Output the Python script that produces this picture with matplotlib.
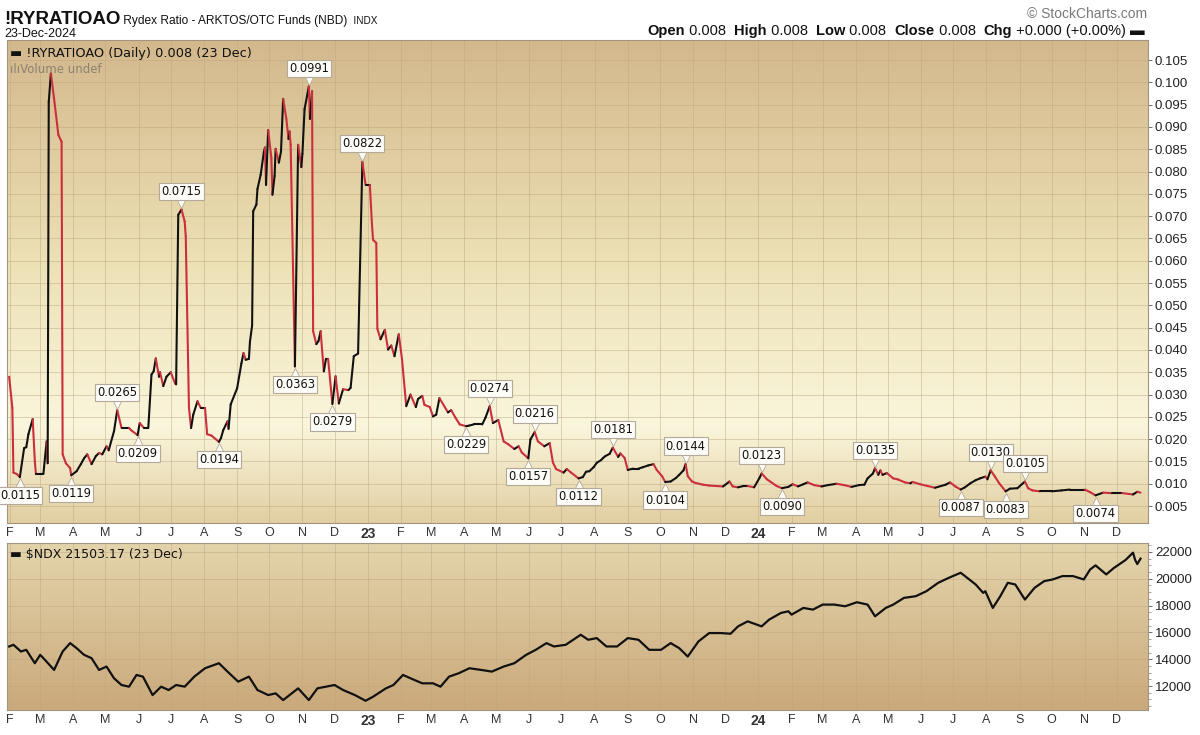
import numpy as np
import pandas as pd
import matplotlib
matplotlib.use("Agg")
import matplotlib.pyplot as plt
import matplotlib.dates as mdates
from matplotlib.collections import LineCollection
from matplotlib.colors import LinearSegmentedColormap
from matplotlib.transforms import offset_copy

plt.rcParams['font.family'] = ['Liberation Sans', 'DejaVu Sans']

# --- Rydex ratio ---
ratio_dates = [
    "2022-01-31", "2022-02-03", "2022-02-04", "2022-02-07", "2022-02-10", "2022-02-14",
    "2022-02-16", "2022-02-18", "2022-02-22", "2022-02-24", "2022-02-25", "2022-03-04",
    "2022-03-07", "2022-03-08", "2022-03-09", "2022-03-11", "2022-03-14", "2022-03-18",
    "2022-03-21", "2022-03-22", "2022-03-25", "2022-03-29", "2022-03-30", "2022-04-04",
    "2022-04-08", "2022-04-11", "2022-04-14", "2022-04-18", "2022-04-22", "2022-04-25",
    "2022-04-28", "2022-05-02", "2022-05-04", "2022-05-09", "2022-05-12", "2022-05-16",
    "2022-05-23", "2022-05-25", "2022-05-31", "2022-06-02", "2022-06-06", "2022-06-10",
    "2022-06-13", "2022-06-15", "2022-06-17", "2022-06-20", "2022-06-21", "2022-06-24",
    "2022-06-27", "2022-07-01", "2022-07-05", "2022-07-06", "2022-07-08", "2022-07-11",
    "2022-07-14", "2022-07-15", "2022-07-18", "2022-07-20", "2022-07-22", "2022-07-26",
    "2022-07-29", "2022-08-02", "2022-08-04", "2022-08-08", "2022-08-15", "2022-08-17",
    "2022-08-19", "2022-08-23", "2022-08-24", "2022-08-26", "2022-09-01", "2022-09-05",
    "2022-09-07", "2022-09-09", "2022-09-12", "2022-09-13", "2022-09-15", "2022-09-16",
    "2022-09-19", "2022-09-20", "2022-09-23", "2022-09-26", "2022-09-27", "2022-09-28",
    "2022-09-30", "2022-10-03", "2022-10-04", "2022-10-06", "2022-10-07", "2022-10-10",
    "2022-10-12", "2022-10-14", "2022-10-17", "2022-10-19", "2022-10-20", "2022-10-21",
    "2022-10-25", "2022-10-28", "2022-10-31", "2022-11-01", "2022-11-03", "2022-11-07",
    "2022-11-08", "2022-11-10", "2022-11-11", "2022-11-14", "2022-11-16", "2022-11-18",
    "2022-11-21", "2022-11-23", "2022-11-25", "2022-11-29", "2022-12-02", "2022-12-05",
    "2022-12-09", "2022-12-14", "2022-12-16", "2022-12-19", "2022-12-23", "2022-12-27",
    "2022-12-30",
    "2023-01-03", "2023-01-05", "2023-01-06", "2023-01-09", "2023-01-10", "2023-01-13",
    "2023-01-17", "2023-01-20", "2023-01-23", "2023-01-26", "2023-01-30", "2023-02-02",
    "2023-02-06", "2023-02-10", "2023-02-15", "2023-02-17", "2023-02-21", "2023-02-23",
    "2023-02-28", "2023-03-03", "2023-03-06", "2023-03-09", "2023-03-14", "2023-03-17",
    "2023-03-20", "2023-03-24", "2023-03-28", "2023-04-03", "2023-04-05", "2023-04-10",
    "2023-04-14", "2023-04-18", "2023-04-21", "2023-04-25", "2023-04-28", "2023-05-03",
    "2023-05-08", "2023-05-12", "2023-05-18", "2023-05-22", "2023-05-25", "2023-05-31",
    "2023-06-02", "2023-06-06", "2023-06-09", "2023-06-15", "2023-06-20", "2023-06-23",
    "2023-06-26", "2023-07-03", "2023-07-06", "2023-07-10", "2023-07-17", "2023-07-21",
    "2023-07-24", "2023-07-27", "2023-07-31", "2023-08-03", "2023-08-07", "2023-08-09",
    "2023-08-11", "2023-08-15", "2023-08-18", "2023-08-23", "2023-08-25", "2023-08-29",
    "2023-09-01", "2023-09-06", "2023-09-11", "2023-09-15", "2023-09-20", "2023-09-25",
    "2023-09-28", "2023-10-03", "2023-10-06", "2023-10-11", "2023-10-16", "2023-10-19",
    "2023-10-23", "2023-10-25", "2023-10-27", "2023-10-31", "2023-11-03", "2023-11-10",
    "2023-11-16", "2023-11-22", "2023-11-29", "2023-12-05", "2023-12-08", "2023-12-13",
    "2023-12-18", "2023-12-22", "2023-12-28",
    "2024-01-02", "2024-01-04", "2024-01-09", "2024-01-12", "2024-01-18", "2024-01-23",
    "2024-01-29", "2024-02-02", "2024-02-07", "2024-02-12", "2024-02-16", "2024-02-22",
    "2024-02-29", "2024-03-06", "2024-03-14", "2024-03-21", "2024-03-28", "2024-04-04",
    "2024-04-09", "2024-04-12", "2024-04-17", "2024-04-19", "2024-04-22", "2024-04-24",
    "2024-04-26", "2024-04-30", "2024-05-06", "2024-05-10", "2024-05-17", "2024-05-22",
    "2024-05-24", "2024-05-31", "2024-06-07", "2024-06-14", "2024-06-24", "2024-06-28",
    "2024-07-03", "2024-07-08", "2024-07-12", "2024-07-17", "2024-07-22", "2024-07-26",
    "2024-07-31", "2024-08-02", "2024-08-05", "2024-08-09", "2024-08-13", "2024-08-19",
    "2024-08-23", "2024-08-30", "2024-09-06", "2024-09-09", "2024-09-13", "2024-09-20",
    "2024-10-01", "2024-10-10", "2024-10-18", "2024-11-01", "2024-11-06", "2024-11-11",
    "2024-11-18", "2024-11-26", "2024-12-06", "2024-12-16", "2024-12-20", "2024-12-23",
]
ratio_values = [
    0.0340, 0.0270, 0.0125, 0.0122, 0.0115, 0.0180,
    0.0182, 0.0211, 0.0245, 0.0150, 0.0122, 0.0122,
    0.0195, 0.0146, 0.0956, 0.1020, 0.0963, 0.0882,
    0.0867, 0.0166, 0.0146, 0.0135, 0.0119, 0.0128,
    0.0144, 0.0157, 0.0166, 0.0144, 0.0162, 0.0169,
    0.0166, 0.0184, 0.0175, 0.0218, 0.0265, 0.0225,
    0.0225, 0.0220, 0.0209, 0.0236, 0.0225, 0.0225,
    0.0345, 0.0352, 0.0381, 0.0340, 0.0350, 0.0319,
    0.0340, 0.0350, 0.0325, 0.0323, 0.0703, 0.0715,
    0.0688, 0.0655, 0.0270, 0.0225, 0.0255, 0.0285,
    0.0270, 0.0270, 0.0211, 0.0208, 0.0194, 0.0203,
    0.0220, 0.0240, 0.0223, 0.0278, 0.0314, 0.0370,
    0.0393, 0.0378, 0.0380, 0.0419, 0.0455, 0.0711,
    0.0726, 0.0761, 0.0793, 0.0844, 0.0854, 0.0770,
    0.0893, 0.0830, 0.0748, 0.0790, 0.0851, 0.0820,
    0.0845, 0.0963, 0.0918, 0.0873, 0.0890, 0.0860,
    0.0363, 0.0860, 0.0810, 0.0840, 0.0940, 0.0991,
    0.0918, 0.0980, 0.0442, 0.0413, 0.0420, 0.0442,
    0.0352, 0.0380, 0.0380, 0.0279, 0.0341, 0.0280,
    0.0312, 0.0310, 0.0315, 0.0386, 0.0392, 0.0822,
    0.0770,
    0.0770, 0.0681, 0.0647, 0.0640, 0.0448, 0.0424,
    0.0445, 0.0401, 0.0410, 0.0386, 0.0435, 0.0380,
    0.0274, 0.0300, 0.0272, 0.0290, 0.0297, 0.0277,
    0.0272, 0.0251, 0.0255, 0.0292, 0.0272, 0.0260,
    0.0265, 0.0248, 0.0233, 0.0229, 0.0230, 0.0233,
    0.0233, 0.0233, 0.0248, 0.0274, 0.0236, 0.0243,
    0.0195, 0.0189, 0.0178, 0.0184, 0.0170, 0.0157,
    0.0199, 0.0216, 0.0195, 0.0184, 0.0191, 0.0148,
    0.0133, 0.0125, 0.0133, 0.0125, 0.0112, 0.0115,
    0.0127, 0.0128, 0.0137, 0.0147, 0.0153, 0.0158,
    0.0162, 0.0167, 0.0181, 0.0160, 0.0168, 0.0158,
    0.0131, 0.0134, 0.0134, 0.0137, 0.0141, 0.0144,
    0.0131, 0.0117, 0.0104, 0.0105, 0.0113, 0.0120,
    0.0130, 0.0144, 0.0117, 0.0105, 0.0102, 0.0098,
    0.0096, 0.0095, 0.0094, 0.0105, 0.0094, 0.0092,
    0.0095, 0.0095, 0.0092,
    0.0113, 0.0123, 0.0110, 0.0105, 0.0095, 0.0090,
    0.0093, 0.0099, 0.0094, 0.0099, 0.0103, 0.0097,
    0.0094, 0.0097, 0.0100, 0.0097, 0.0093, 0.0097,
    0.0098, 0.0112, 0.0123, 0.0135, 0.0120, 0.0130,
    0.0120, 0.0124, 0.0112, 0.0110, 0.0103, 0.0101,
    0.0104, 0.0099, 0.0095, 0.0091, 0.0098, 0.0103,
    0.0094, 0.0087, 0.0092, 0.0101, 0.0108, 0.0112,
    0.0116, 0.0110, 0.0130, 0.0116, 0.0101, 0.0083,
    0.0089, 0.0090, 0.0105, 0.0090, 0.0085, 0.0083,
    0.0083, 0.0085, 0.0087, 0.0087, 0.0081, 0.0074,
    0.0080, 0.0079, 0.0079, 0.0076, 0.0082, 0.0080,
]

# peak / trough call-outs shown on the chart
label_dates = ["2022-02-10", "2022-03-30", "2022-05-12", "2022-05-31", "2022-07-11",
               "2022-08-15", "2022-10-25", "2022-11-07", "2022-11-29", "2022-12-27",
               "2023-04-03", "2023-04-25", "2023-05-31", "2023-06-06", "2023-07-17",
               "2023-08-18", "2023-10-06", "2023-10-25", "2024-01-04", "2024-01-23",
               "2024-04-19", "2024-07-08", "2024-08-05", "2024-08-19", "2024-09-06",
               "2024-11-11"]
label_values = [0.0115, 0.0119, 0.0265, 0.0209, 0.0715,
                0.0194, 0.0363, 0.0991, 0.0279, 0.0822,
                0.0229, 0.0274, 0.0157, 0.0216, 0.0112,
                0.0181, 0.0104, 0.0144, 0.0123, 0.0090,
                0.0135, 0.0087, 0.0130, 0.0083, 0.0105,
                0.0074]
label_sides = ["low", "low", "high", "low", "high",
               "low", "low", "high", "low", "high",
               "low", "high", "low", "high", "low",
               "high", "low", "high", "high", "low",
               "high", "low", "high", "low", "high",
               "low"]

# --- Nasdaq 100 ---
ndx_dates = [
    "2022-01-31", "2022-02-04", "2022-02-11", "2022-02-16", "2022-02-24", "2022-03-01",
    "2022-03-04", "2022-03-14", "2022-03-22", "2022-03-29", "2022-04-04", "2022-04-11",
    "2022-04-18", "2022-04-25", "2022-05-02", "2022-05-09", "2022-05-16", "2022-05-23",
    "2022-05-30", "2022-06-05", "2022-06-14", "2022-06-22", "2022-06-29", "2022-07-06",
    "2022-07-14", "2022-07-23", "2022-08-02", "2022-08-15", "2022-08-23", "2022-09-02",
    "2022-09-12", "2022-09-20", "2022-09-30", "2022-10-07", "2022-10-14", "2022-10-24",
    "2022-10-28", "2022-11-07", "2022-11-15", "2022-11-23", "2022-12-01", "2022-12-09",
    "2022-12-20", "2022-12-30",
    "2023-01-06", "2023-01-18", "2023-01-25", "2023-02-03", "2023-02-10", "2023-02-21",
    "2023-03-03", "2023-03-10", "2023-03-18", "2023-03-27", "2023-04-06", "2023-04-17",
    "2023-04-27", "2023-05-08", "2023-05-18", "2023-05-29", "2023-06-07", "2023-06-17",
    "2023-06-24", "2023-07-05", "2023-07-12", "2023-07-19", "2023-07-26", "2023-08-03",
    "2023-08-12", "2023-08-22", "2023-09-01", "2023-09-11", "2023-09-21", "2023-10-02",
    "2023-10-11", "2023-10-19", "2023-10-27", "2023-11-06", "2023-11-16", "2023-11-27",
    "2023-12-06", "2023-12-13", "2023-12-22",
    "2024-01-04", "2024-01-11", "2024-01-22", "2024-01-29", "2024-02-01", "2024-02-12",
    "2024-02-21", "2024-03-01", "2024-03-12", "2024-03-22", "2024-04-02", "2024-04-12",
    "2024-04-19", "2024-04-29", "2024-05-06", "2024-05-16", "2024-05-27", "2024-06-06",
    "2024-06-17", "2024-06-27", "2024-07-08", "2024-07-12", "2024-07-22", "2024-07-29",
    "2024-07-31", "2024-08-07", "2024-08-14", "2024-08-21", "2024-08-28", "2024-09-06",
    "2024-09-15", "2024-09-24", "2024-10-02", "2024-10-11", "2024-10-21", "2024-10-31",
    "2024-11-06", "2024-11-11", "2024-11-21", "2024-11-28", "2024-12-09", "2024-12-16",
    "2024-12-18", "2024-12-20", "2024-12-23",
]
ndx_values = [
    14950, 15075, 14575, 14700, 13700, 14325,
    14075, 13200, 14575, 15200, 14825, 14325,
    14075, 13200, 13450, 12575, 12075, 11950,
    12825, 12700, 11325, 11950, 11700, 12075,
    11950, 12700, 13325, 13700, 13075, 12325,
    12700, 11700, 11325, 11450, 10950, 11575,
    11825, 10950, 11825, 11950, 12075, 11700,
    11325, 10900,
    11200, 11825, 12075, 12825, 12575, 12200,
    12200, 11950, 12700, 12950, 13325, 13200,
    13075, 13450, 13700, 14325, 14700, 15200,
    14950, 15075, 15450, 15825, 15450, 15575,
    14950, 14950, 15575, 15450, 14700, 14700,
    15200, 14825, 14200, 15325, 15950, 15950,
    15900, 16450, 16825,
    16450, 16950, 17450, 17575, 17325, 17825,
    17700, 18075, 18075, 17950, 18250, 18075,
    17200, 17825, 18075, 18575, 18700, 19075,
    19700, 20075, 20450, 20200, 19575, 18950,
    19075, 17825, 18700, 19700, 19575, 18450,
    19325, 19825, 19950, 20200, 20200, 19950,
    20700, 21000, 20325, 20800, 21400, 21950,
    21400, 21100, 21503,
]

ratio_tick_values = np.round(np.arange(0.005, 0.1051, 0.005), 3)
ndx_tick_values = [12000, 14000, 16000, 18000, 20000, 22000]

W, H = 1200, 735
fig = plt.figure(figsize=(W / 100, H / 100), dpi=100)
fig.patch.set_facecolor("white")


def fx(px):
    return px / W


def fy(py):
    return 1 - py / H


def gradient(ax, stops, colors):
    cmap = LinearSegmentedColormap.from_list("bg", list(zip(stops, colors)))
    grad = np.linspace(0, 1, 256).reshape(-1, 1)
    ax.imshow(grad, cmap=cmap, aspect="auto", extent=[0, 1, 0, 1],
              transform=ax.transAxes, zorder=0, interpolation="bilinear")


ax1 = fig.add_axes([fx(7), fy(523), fx(1148) - fx(7), fy(40) - fy(523)])
ax2 = fig.add_axes([fx(7), fy(710), fx(1148) - fx(7), fy(543) - fy(710)])

gradient(ax1, [0, 0.45, 0.8, 1.0],
         ["#d3b88c", "#ece0b4", "#faf6dc", "#e2cfa2"])
gradient(ax2, [0, 1.0], ["#e4d4ab", "#caa97b"])

month_ticks = pd.date_range("2022-02-01", "2024-12-01", freq="MS")
month_labels = [f"{d:%y}" if d.month == 1 else f"{d:%b}"[0] for d in month_ticks]
xmin, xmax = pd.Timestamp("2022-01-29"), pd.Timestamp("2024-12-30")

for ax in (ax1, ax2):
    ax.set_xlim(xmin, xmax)
    ax.set_xticks(month_ticks)
    ax.set_xticklabels(month_labels)
    for lab, d in zip(ax.get_xticklabels(), month_ticks):
        lab.set_fontweight("bold" if d.month == 1 else "normal")
        lab.set_fontsize(10 if d.month == 1 else 9)
    ax.tick_params(axis="x", length=0, pad=3, colors="#333333")
    ax.yaxis.tick_right()
    ax.tick_params(axis="y", length=3, width=0.6, colors="#555555", labelsize=9.5,
                   labelcolor="#222222", pad=2)
    ax.grid(True, color="#bba783", lw=0.6, alpha=0.55, zorder=1)
    for s in ax.spines.values():
        s.set_color("#a39482")
        s.set_linewidth(0.8)

# top panel: ratio line, black when rising, red when falling
rd = mdates.date2num(pd.to_datetime(ratio_dates))
rv = np.array(ratio_values)
pts = np.column_stack([rd, rv])
segs = np.stack([pts[:-1], pts[1:]], axis=1)
seg_colors = ["#cc2f3c" if b < a else "#111111" for a, b in zip(rv[:-1], rv[1:])]
ax1.add_collection(LineCollection(segs, colors=seg_colors, linewidths=1.5,
                                  zorder=3, capstyle="round", joinstyle="round"))
ax1.set_ylim(0.0012, 0.1095)
ax1.set_yticks(ratio_tick_values)
ax1.set_yticklabels([f"{v:.3f}" for v in ratio_tick_values])

for d, v, side in zip(label_dates, label_values, label_sides):
    sign = 1 if side == "high" else -1
    dn = mdates.date2num(pd.Timestamp(d))
    ax1.annotate(f"{v:.4f}", xy=(dn, v), xytext=(0, sign * 13), textcoords="offset points",
                 ha="center", va="center", fontsize=8.3, family="DejaVu Sans", color="#111111",
                 bbox=dict(boxstyle="square,pad=0.18", fc="#fdfcf7", ec="#b3a999", lw=0.8),
                 zorder=6)
    tri = offset_copy(ax1.transData, fig=fig, x=0, y=sign * 4.5, units="points")
    ax1.plot([dn], [v], marker="v" if sign > 0 else "^", ms=7, mfc="#fdfcf7",
             mec="#b3a999", mew=0.6, transform=tri, zorder=5, clip_on=False)

# bottom panel: NDX
nd = pd.to_datetime(ndx_dates)
ax2.plot(nd, ndx_values, color="#111111", lw=1.6, zorder=3)
ax2.set_ylim(10210, 22670)
ax2.set_yticks(ndx_tick_values)
ax2.set_yticklabels([str(v) for v in ndx_tick_values])
ax2.set_yticks(np.arange(10500, 22600, 500), minor=True)
ax2.tick_params(axis="y", which="minor", length=2, width=0.5, colors="#8a7d6c")

# legends inside panels
ax1.text(0.003, 0.985, "▬ !RYRATIOAO (Daily) 0.008 (23 Dec)", transform=ax1.transAxes,
         family="DejaVu Sans", fontsize=9.3, va="top", ha="left", color="#111111", zorder=7)
ax1.text(0.003, 0.953, "ılıVolume undef", transform=ax1.transAxes,
         family="DejaVu Sans", fontsize=8.5, va="top", ha="left", color="#8c8272", zorder=7)
ax2.text(0.003, 0.97, "▬ $NDX 21503.17 (23 Dec)", transform=ax2.transAxes,
         family="DejaVu Sans", fontsize=9, va="top", ha="left", color="#111111", zorder=7)

# header
renderer = fig.canvas.get_renderer()


def run_text(x, y, parts, right=None):
    made = []
    for s, size, weight, color in parts:
        t = fig.text(fx(x), fy(y), s, fontsize=size, fontweight=weight, color=color,
                     va="baseline", ha="left")
        x += t.get_window_extent(renderer).width
        made.append(t)
    if right is not None:
        shift = (right - x) / W
        for t in made:
            px, py = t.get_position()
            t.set_position((px + shift, py))


run_text(4, 24, [("!RYRATIOAO", 13.5, "bold", "#111111"),
                 (" Rydex Ratio - ARKTOS/OTC Funds (NBD)", 8.6, "normal", "#111111"),
                 ("  INDX", 7.2, "normal", "#111111")])
fig.text(fx(4), fy(37), "23-Dec-2024", fontsize=9, color="#111111", va="baseline")
fig.text(fx(1147), fy(18), "© StockCharts.com", fontsize=10, color="#7a7a7a",
         ha="right", va="baseline")
run_text(645, 35, [("Open", 10.5, "bold", "#111111"), (" 0.008  ", 10.5, "normal", "#111111"),
                   ("High", 10.5, "bold", "#111111"), (" 0.008  ", 10.5, "normal", "#111111"),
                   ("Low", 10.5, "bold", "#111111"), (" 0.008  ", 10.5, "normal", "#111111"),
                   ("Close", 10.5, "bold", "#111111"), (" 0.008  ", 10.5, "normal", "#111111"),
                   ("Chg", 10.5, "bold", "#111111"), (" +0.000 (+0.00%) ", 10.5, "normal", "#111111"),
                   ("▬", 10.5, "bold", "#111111")], right=1145)

fig.savefig("out.png", dpi=100, facecolor=fig.get_facecolor())
